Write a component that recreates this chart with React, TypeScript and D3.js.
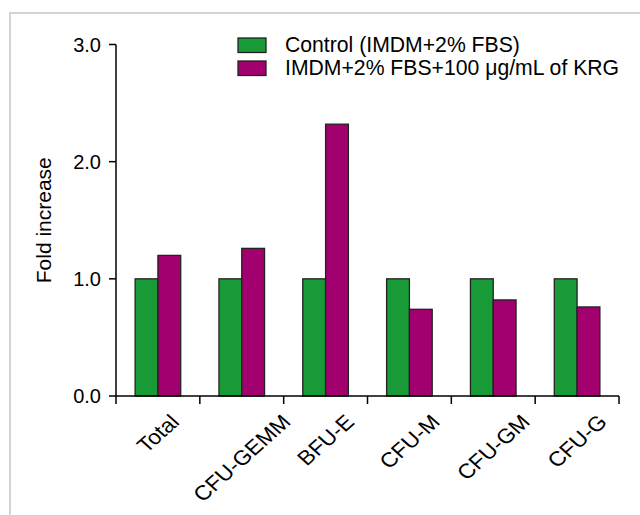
import React from "react";
import * as d3 from "d3";

const categories = ["Total", "CFU-GEMM", "BFU-E", "CFU-M", "CFU-GM", "CFU-G"];
const controlValues = [1, 1, 1, 1, 1, 1];
const krgValues = [1.2, 1.26, 2.32, 0.74, 0.82, 0.76];
const seriesNames = ["Control (IMDM+2% FBS)", "IMDM+2% FBS+100 \u03bcg/mL of KRG"];
const seriesKeys = ["control", "krg"];
const seriesColors = ["#189a37", "#a2006f"];
const yTicks = [0, 1, 2, 3];
const yTitle = "Fold increase";

const W = 640;
const H = 515;
const FONT = '"Liberation Sans", Arial, Helvetica, sans-serif';

function measure(text: string, size: number): number {
  if (typeof document === "undefined") return text.length * size * 0.6;
  const c = document.createElement("canvas");
  const ctx = c.getContext("2d");
  if (!ctx) return text.length * size * 0.6;
  ctx.font = `${size}px ${FONT}`;
  return ctx.measureText(text).width;
}

export default function App() {
  const x0 = d3
    .scaleBand<string>()
    .domain(categories)
    .range([116, 619])
    .paddingInner(0.456)
    .paddingOuter(0.228);
  const x1 = d3.scaleBand<string>().domain(seriesKeys).range([0, x0.bandwidth()]);
  const y = d3.scaleLinear().domain([0, 3]).range([396, 44.5]);
  const step = x0.step();
  const [xl, xr] = x0.range();
  const boundaries = d3.range(categories.length + 1).map((i) => xl + i * step);

  const tickFont = 20;
  const labelFont = 20.5;
  const labelStretch = 1.12;
  const legendFont = 21.2;
  const titleFont = 21;

  const data = categories.map((c, i) => ({
    cat: c,
    values: [controlValues[i], krgValues[i]],
  }));

  return (
    <svg
      width={W}
      height={H}
      style={{ position: "absolute", left: 0, top: 0, background: "#fff" }}
      fontFamily={FONT}
    >
      <rect x={0} y={0} width={W} height={H} fill="#fff" />
      {/* frame */}
      <path d={`M10,${H} L10,13 L${W},13`} fill="none" stroke="#d4d4d4" strokeWidth={2} />

      {/* bars */}
      {data.map((d) => (
        <g key={d.cat} transform={`translate(${x0(d.cat)},0)`}>
          {d.values.map((v, j) => (
            <rect
              key={j}
              x={x1(seriesKeys[j])}
              y={y(v)}
              width={x1.bandwidth()}
              height={y(0) - y(v)}
              fill={seriesColors[j]}
              stroke="#222"
              strokeWidth={1.3}
            />
          ))}
        </g>
      ))}

      {/* y axis */}
      <line x1={xl} x2={xl} y1={y(3)} y2={y(0)} stroke="#000" strokeWidth={1.5} />
      {yTicks.map((t) => (
        <g key={t}>
          <line x1={xl - 7} x2={xl} y1={y(t)} y2={y(t)} stroke="#000" strokeWidth={1.5} />
          <text
            x={101}
            y={y(t)}
            textAnchor="end"
            dominantBaseline="central"
            fontSize={tickFont}
            fill="#000"
          >
            {t.toFixed(1)}
          </text>
        </g>
      ))}

      {/* x axis */}
      <line x1={xl} x2={xr} y1={y(0)} y2={y(0)} stroke="#000" strokeWidth={1.5} />
      {boundaries.map((bx, i) => (
        <line key={i} x1={bx} x2={bx} y1={y(0)} y2={y(0) + 8} stroke="#000" strokeWidth={1.5} />
      ))}
      {categories.map((c) => {
        const L = measure(c, labelFont);
        const h = labelFont * 0.72;
        const cx = (x0(c) as number) + x0.bandwidth() / 2;
        const cy = 413 + ((L + h) * Math.SQRT1_2) / 2;
        return (
          <text
            key={c}
            transform={`translate(${cx},${cy}) scale(${labelStretch},1) rotate(-45)`}
            textAnchor="middle"
            dominantBaseline="central"
            fontSize={labelFont}
            fill="#000"
          >
            {c}
          </text>
        );
      })}

      {/* y title */}
      <text
        transform={`translate(51,${(y(0) + y(3)) / 2}) rotate(-90)`}
        textAnchor="middle"
        fontSize={titleFont}
        fill="#000"
      >
        {yTitle}
      </text>

      {/* legend */}
      {seriesNames.map((name, i) => (
        <g key={name} transform={`translate(238,${38 + i * 23})`}>
          <rect x={0} y={0} width={28} height={14.5} fill={seriesColors[i]} stroke="#222" strokeWidth={1.3} />
          <text x={47} y={14} fontSize={legendFont} fill="#000">
            {name}
          </text>
        </g>
      ))}
    </svg>
  );
}
